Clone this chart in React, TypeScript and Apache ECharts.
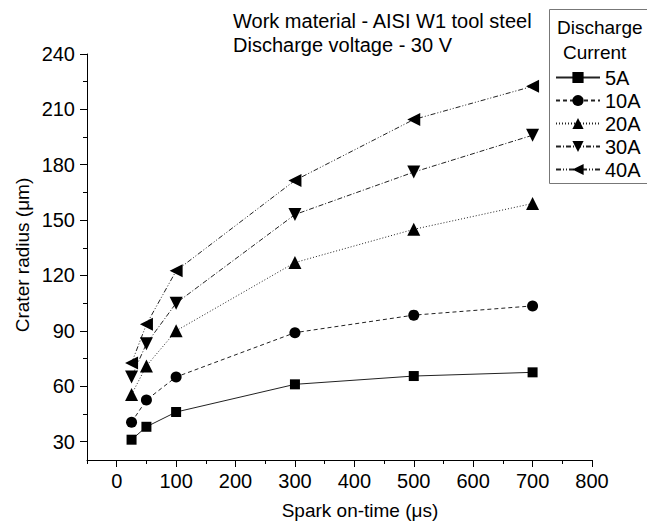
import React, { useEffect, useRef } from "react";
import * as echarts from "echarts";

const sparkOnTime = [25, 50, 100, 300, 500, 700];
const current5A = [31, 38, 46, 61, 65.5, 67.5];
const current10A = [40.5, 52.5, 65, 89, 98.5, 103.5];
const current20A = [55.5, 71, 90, 127, 145, 159];
const current30A = [65, 83, 105, 153, 176, 196];
const current40A = [72.5, 93.5, 122.5, 171.5, 204.5, 222.5];

const xMajorTicks = [0, 100, 200, 300, 400, 500, 600, 700, 800];
const xMinorTicks = [-50, 50, 150, 250, 350, 450, 550, 650, 750];
const yMajorTicks = [30, 60, 90, 120, 150, 180, 210, 240];
const yMinorTicks = [45, 75, 105, 135, 165, 195, 225];

const FONT = "'Liberation Sans', Arial, sans-serif";

const pair = (vals: number[]) => sparkOnTime.map((x, i) => [x, vals[i]]);

export default function App() {
  const ref = useRef<HTMLDivElement>(null);
  useEffect(() => {
    if (!ref.current) return;
    const chart = echarts.init(ref.current, null, { renderer: "svg" });
    const lineColor = "#222";
    const mk = (name: string, vals: number[], symbol: string, size: number, rot: number, dash: any) => ({
      name,
      type: "line",
      xAxisIndex: 0,
      yAxisIndex: 0,
      data: pair(vals),
      symbol,
      symbolSize: size,
      symbolRotate: rot,
      showSymbol: true,
      itemStyle: { color: "#000" },
      lineStyle: { color: lineColor, width: 1, type: dash },
    });
    chart.setOption({
      animation: false,
      backgroundColor: "#fff",
      textStyle: { fontFamily: FONT },
      grid: { left: 87, top: 54, right: 55, bottom: 66, containLabel: false },
      xAxis: [
        {
          type: "value",
          min: -50,
          max: 800,
          position: "bottom",
          axisLine: { show: true, onZero: false, lineStyle: { color: "#000", width: 1 } },
          axisTick: { show: true, customValues: xMajorTicks, length: 7, lineStyle: { color: "#000" } },
          axisLabel: { customValues: xMajorTicks, fontSize: 20, color: "#000", fontFamily: FONT, margin: 11 },
          splitLine: { show: false },
        },
        {
          type: "value",
          min: -50,
          max: 800,
          position: "bottom",
          axisLine: { show: false, onZero: false },
          axisTick: { show: true, customValues: xMinorTicks, length: 4, lineStyle: { color: "#000" } },
          axisLabel: { show: false },
          splitLine: { show: false },
        },
      ],
      yAxis: [
        {
          type: "value",
          min: 20,
          max: 240,
          position: "left",
          axisLine: { show: true, onZero: false, lineStyle: { color: "#000", width: 1 } },
          axisTick: { show: true, customValues: yMajorTicks, length: 7, lineStyle: { color: "#000" } },
          axisLabel: { customValues: yMajorTicks, fontSize: 20, color: "#000", fontFamily: FONT, margin: 12 },
          splitLine: { show: false },
        },
        {
          type: "value",
          min: 20,
          max: 240,
          position: "left",
          axisLine: { show: false, onZero: false },
          axisTick: { show: true, customValues: yMinorTicks, length: 4, lineStyle: { color: "#000" } },
          axisLabel: { show: false },
          splitLine: { show: false },
        },
      ],
      legend: {
        orient: "vertical",
        left: 555,
        top: 66,
        padding: 0,
        itemGap: 0,
        itemWidth: 44,
        itemHeight: 14,
        textStyle: { fontSize: 20, color: "#000", fontFamily: FONT, lineHeight: 23 },
        data: ["5A", "10A", "20A", "30A", "40A"],
      },
      graphic: [
        {
          type: "rect",
          shape: { x: 549.5, y: 9.5, width: 120, height: 174 },
          style: { fill: "none", stroke: "#777", lineWidth: 1 },
          silent: true,
        },
        {
          type: "text",
          x: 557,
          y: 27,
          style: { text: "Discharge", font: `19px ${FONT}`, fill: "#000", verticalAlign: "middle" },
        },
        {
          type: "text",
          x: 563,
          y: 52,
          style: { text: "Current", font: `19px ${FONT}`, fill: "#000", verticalAlign: "middle" },
        },
        {
          type: "text",
          x: 233,
          y: 21,
          style: { text: "Work material - AISI W1 tool steel", font: `20px ${FONT}`, fill: "#000", verticalAlign: "middle" },
        },
        {
          type: "text",
          x: 233,
          y: 45,
          style: { text: "Discharge voltage - 30 V", font: `20px ${FONT}`, fill: "#000", verticalAlign: "middle" },
        },
        {
          type: "text",
          x: 360,
          y: 510,
          style: { text: "Spark on-time (\u03bcs)", font: `19px ${FONT}`, fill: "#000", align: "center", verticalAlign: "middle" },
        },
        {
          type: "text",
          x: 22,
          y: 255,
          rotation: Math.PI / 2,
          style: { text: "Crater radius (\u03bcm)", font: `19px ${FONT}`, fill: "#000", align: "center", verticalAlign: "middle" },
        },
      ],
      series: [
        mk("5A", current5A, "rect", 10, 0, "solid"),
        mk("10A", current10A, "circle", 11, 0, [4, 3]),
        mk("20A", current20A, "triangle", 13, 0, [1, 2]),
        mk("30A", current30A, "triangle", 13, 180, [5, 2, 1, 2]),
        mk("40A", current40A, "triangle", 13, 90, [5, 2, 1, 2, 1, 2]),
      ],
    });
    return () => chart.dispose();
  }, []);
  return (
    <div
      ref={ref}
      style={{ position: "fixed", left: 0, top: 0, width: 647, height: 526, background: "#fff" }}
    />
  );
}
